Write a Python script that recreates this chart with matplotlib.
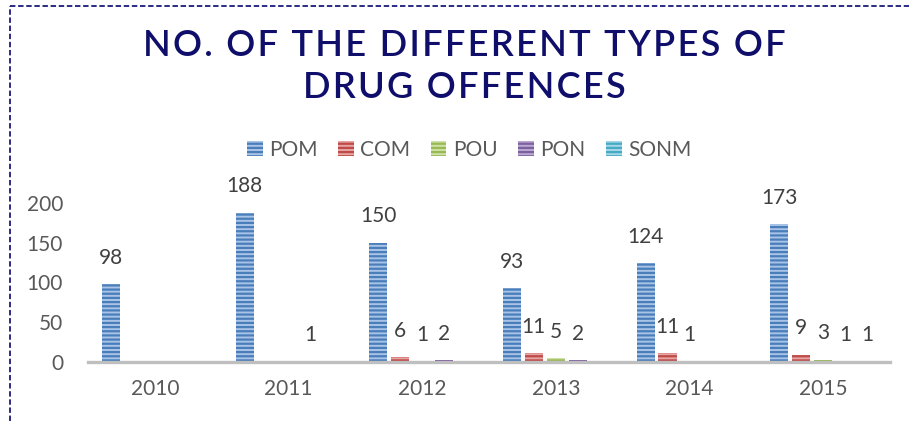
import matplotlib.pyplot as plt
import numpy as np
from matplotlib.lines import Line2D

years = ['2010', '2011', '2012', '2013', '2014', '2015']
offence_types = ['POM', 'COM', 'POU', 'PON', 'SONM']
pom = [98, 188, 150, 93, 124, 173]
com = [0, 0, 6, 11, 11, 9]
pou = [0, 0, 1, 5, 1, 3]
pon = [0, 1, 2, 2, 0, 1]
sonm = [0, 0, 0, 0, 0, 1]
yticks = [0, 50, 100, 150, 200]
title_lines = ['NO. OF THE DIFFERENT TYPES OF', 'DRUG OFFENCES']

# (face, stripe) colours for each series
colors = [('#a9c4e6', '#4a7ebb'),
          ('#e6a5a3', '#be4b48'),
          ('#cfe0a8', '#98b954'),
          ('#b9a9d1', '#7d60a0'),
          ('#a5d7e6', '#46aac5')]

plt.rcParams['font.family'] = ['Lato', 'DejaVu Sans']
plt.rcParams['hatch.linewidth'] = 1.6

fig = plt.figure(figsize=(9.09, 4.21), dpi=100)
ax = fig.add_axes([88 / 909, 59 / 421, 802 / 909, 159 / 421])

series = [pom, com, pou, pon, sonm]
x = np.arange(len(years))
pitch = 0.1645
width = 0.135

for i, (name, vals) in enumerate(zip(offence_types, series)):
    pos = x + (i - 2) * pitch
    ax.bar(pos, vals, width, color=colors[i][0], edgecolor=colors[i][1],
           hatch='----', linewidth=0, label=name, zorder=2)
    for px, v in zip(pos, vals):
        if v > 0:
            ax.annotate(str(v), (px, v), xytext=(0, 19), textcoords='offset points',
                        ha='center', va='center', fontsize=15, color='#404040',
                        annotation_clip=False)

ax.set_xlim(-0.5, len(years) - 0.5)
ax.set_ylim(0, 200)
ax.set_xticks(x)
ax.set_xticklabels(years)
ax.set_yticks(yticks)
ax.tick_params(axis='both', length=0, labelsize=15, labelcolor='#595959')
ax.tick_params(axis='y', pad=18)
ax.tick_params(axis='x', pad=12)
for side in ['top', 'right', 'left']:
    ax.spines[side].set_visible(False)
ax.spines['bottom'].set_color('#bfbfbf')
ax.spines['bottom'].set_linewidth(2.4)
ax.spines['bottom'].set_zorder(3)

fig.legend(loc='center', bbox_to_anchor=(469 / 909, 1 - 150 / 421), ncol=5,
           frameon=False, fontsize=15, labelcolor='#595959',
           handlelength=0.75, handleheight=0.75, handletextpad=0.3, columnspacing=1.0)

# title with widened letter spacing (hair space between glyphs)
for line, ypix in zip(title_lines, [45, 87]):
    fig.text(464 / 909, 1 - ypix / 421, '\u200a'.join(line),
             ha='center', va='center', fontsize=26, fontweight='semibold',
             color='#0f0f6b')

# dashed frame edges
dash = dict(color='#1a1a7a', linewidth=1.3, linestyle=(0, (3, 1.5)))
fig.add_artist(Line2D([10 / 909, 10 / 909], [0, 1 - 6 / 421], **dash))
fig.add_artist(Line2D([10 / 909, 1], [1 - 6 / 421, 1 - 6 / 421], **dash))

fig.savefig('out.png', dpi=100)
